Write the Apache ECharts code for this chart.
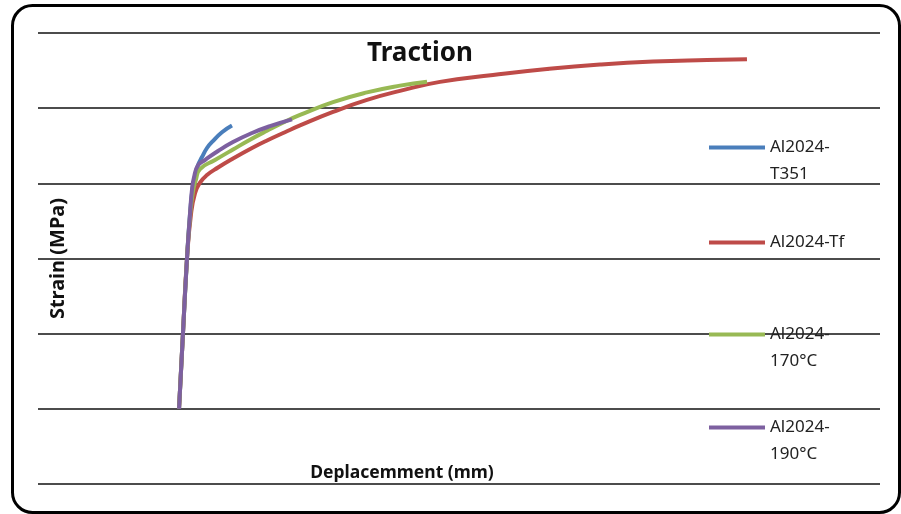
<!DOCTYPE html>
<html>
<head>
    <meta charset="UTF-8">
    <title>Traction</title>
    <style>
        html, body { margin: 0; padding: 0; background: #fff; }
        #main { width: 901px; height: 514px; }
    </style>
</head>
<body>
<div id="main"></div>
<script src="https://cdn.jsdelivr.net/npm/echarts@6/dist/echarts.min.js"></script>
<script>
    // courbes : [deplacement, contrainte]
    var seriesNames = ['Al2024-T351', 'Al2024-Tf', 'Al2024-170°C', 'Al2024-190°C'];
    // ligne vide devant : l'icone se centre sur la premiere ligne du texte
    var legendLabels = ['\nAl2024-\nT351', 'Al2024-Tf', '\nAl2024-\n170°C', '\nAl2024-\n190°C'];
    var colors = ['#4a7ebb', '#be4b48', '#98b954', '#7d60a0'];

    var t351 = [[16.75, 100], [17.22, 201], [17.7, 301], [18.05, 359], [18.4, 397], [18.65, 409],
        [19.0, 424], [19.48, 435], [20.07, 447], [20.67, 455], [21.85, 468], [23.04, 477]];
    var tf = [[16.75, 100], [17.22, 201], [17.7, 301], [18.17, 359], [18.65, 387], [19.24, 401],
        [20.07, 411], [21.38, 421], [23.16, 433], [25.42, 447], [27.2, 457], [29.33, 468],
        [31.12, 477], [35.04, 495], [39.07, 511], [42.99, 523], [47.74, 535], [54.04, 544],
        [60.45, 552], [66.75, 558], [73.04, 562], [79.45, 564], [84.2, 565]];
    var t170 = [[16.75, 100], [17.22, 201], [17.7, 301], [18.05, 355], [18.4, 389], [18.76, 405],
        [19.24, 419], [21.02, 431], [23.16, 445], [25.18, 458], [27.2, 470], [29.33, 482],
        [31.12, 491], [35.04, 508], [39.07, 521], [42.99, 530], [46.2, 535]];
    var t190 = [[16.75, 100], [17.22, 201], [17.7, 301], [18.05, 359], [18.29, 392], [18.53, 408],
        [19.0, 424], [19.83, 431], [21.38, 443], [23.16, 455], [25.42, 467], [27.55, 476], [30.17, 485]];
    var allData = [t351, tf, t170, t190];

    var legendTops = [107, 229, 294, 387];

    var myChart = echarts.init(document.getElementById('main'));

    var series = [];
    var legends = [];
    for (var i = 0; i < seriesNames.length; i++) {
        series.push({
            name: seriesNames[i],
            type: 'line',
            data: allData[i],
            smooth: 0.5,
            symbol: 'none',
            lineStyle: {width: 4, color: colors[i]},
            itemStyle: {color: colors[i]}
        });
        legends.push({
            data: [seriesNames[i]],
            left: 709,
            top: legendTops[i],
            padding: 0,
            orient: 'vertical',
            icon: 'rect',
            itemWidth: 56,
            itemHeight: 4,
            selectedMode: false,
            formatter: (function (lbl) { return function () { return lbl; }; })(legendLabels[i]),
            textStyle: {
                fontFamily: 'Noto Sans',
                fontSize: 17,
                color: '#222',
                lineHeight: 27
            }
        });
    }

    var option = {
        backgroundColor: '#fff',
        animation: false,
        title: {
            text: 'Traction',
            left: 415,
            top: 36,
            textAlign: 'center',
            textStyle: {fontFamily: 'Noto Sans', fontSize: 26, fontWeight: 'bold', color: '#111'}
        },
        legend: legends,
        grid: {left: 38, right: 21, top: 33, bottom: 30},
        xAxis: {
            type: 'value',
            min: 0,
            max: 100,
            name: 'Deplacemment (mm)',
            nameLocation: 'middle',
            nameGap: -20,
            nameTextStyle: {fontFamily: 'Noto Sans', fontSize: 17.5, fontWeight: 'bold', color: '#111',
                padding: [0, 114, 0, 0]},
            axisLine: {show: false},
            axisTick: {show: false},
            axisLabel: {show: false},
            splitLine: {show: false}
        },
        yAxis: {
            type: 'value',
            min: 0,
            max: 600,
            interval: 100,
            name: 'Strain (MPa)',
            nameLocation: 'middle',
            nameGap: -30,
            nameTextStyle: {fontFamily: 'Noto Sans', fontSize: 20, fontWeight: 'bold', color: '#111'},
            axisLine: {show: false},
            axisTick: {show: false},
            axisLabel: {show: false},
            splitLine: {show: true, lineStyle: {color: '#111', width: 1.5}}
        },
        graphic: [{
            type: 'rect',
            left: 10,
            top: 3,
            shape: {width: 887, height: 507, r: 20},
            style: {fill: 'none', stroke: '#000', lineWidth: 3},
            silent: true
        }],
        series: series
    };

    myChart.setOption(option);
</script>
</body>
</html>
